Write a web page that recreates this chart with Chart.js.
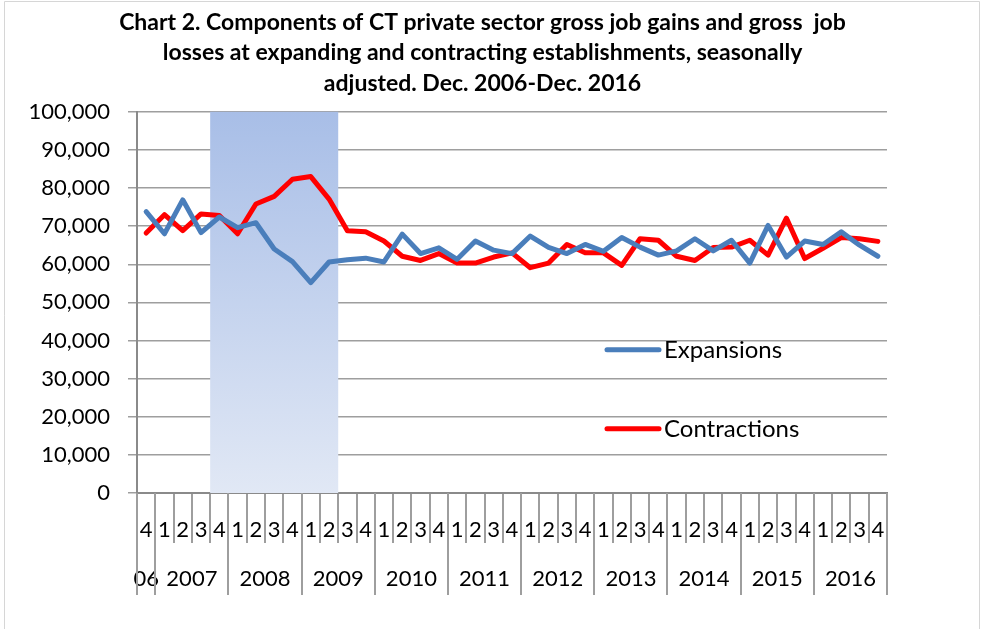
<!DOCTYPE html>
<html>
<head>
<meta charset="utf-8">
<script src="https://cdn.jsdelivr.net/npm/chart.js@4.4.1/dist/chart.umd.min.js"></script>
<style>
  html, body { margin: 0; padding: 0; background: #fff; }
  #chart { display: block; }
</style>
</head>
<body>
<canvas id="chart" width="981" height="629"></canvas>
<script>
// quarters, Dec. 2006 - Dec. 2016
const periods = [
  "2006 Q4",
  "2007 Q1", "2007 Q2", "2007 Q3", "2007 Q4",
  "2008 Q1", "2008 Q2", "2008 Q3", "2008 Q4",
  "2009 Q1", "2009 Q2", "2009 Q3", "2009 Q4",
  "2010 Q1", "2010 Q2", "2010 Q3", "2010 Q4",
  "2011 Q1", "2011 Q2", "2011 Q3", "2011 Q4",
  "2012 Q1", "2012 Q2", "2012 Q3", "2012 Q4",
  "2013 Q1", "2013 Q2", "2013 Q3", "2013 Q4",
  "2014 Q1", "2014 Q2", "2014 Q3", "2014 Q4",
  "2015 Q1", "2015 Q2", "2015 Q3", "2015 Q4",
  "2016 Q1", "2016 Q2", "2016 Q3", "2016 Q4"
];
const quarterLabels = [
  "4",
  "1", "2", "3", "4", "1", "2", "3", "4", "1", "2", "3", "4",
  "1", "2", "3", "4", "1", "2", "3", "4", "1", "2", "3", "4",
  "1", "2", "3", "4", "1", "2", "3", "4", "1", "2", "3", "4",
  "1", "2", "3", "4"
];
const yearLabels = ["06", "2007", "2008", "2009", "2010", "2011", "2012", "2013", "2014", "2015", "2016"];
const yearSpans = [1, 4, 4, 4, 4, 4, 4, 4, 4, 4, 4];

const expansions = [
  73800, 68000, 76900, 68300, 72400, 69600, 70900, 64000, 60700, 55200,
  60600, 61200, 61600, 60600, 67900, 62800, 64300, 61300, 66100, 63700,
  62800, 67400, 64400, 62800, 65200, 63400, 67000, 64500, 62400, 63500,
  66700, 63500, 66300, 60300, 70200, 61900, 66100, 65200, 68500, 65000,
  62100
];
const contractions = [
  68200, 73000, 68800, 73200, 72800, 68000, 75800, 77800, 82300, 83000,
  77100, 68800, 68500, 66100, 62100, 61000, 62800, 60300, 60300, 61900,
  63000, 59100, 60300, 65200, 63000, 63000, 59700, 66700, 66300, 62100,
  61000, 64400, 64500, 66300, 62400, 72100, 61500, 64200, 67000, 66700,
  66000
];

// recession shading (Dec. 2007 - Jun. 2009)
const recessionFrom = "2007 Q4";
const recessionTo = "2009 Q2";

const FONT = "Lato";
const GRID = "#9e9e9e";
const AXIS = "#8a8a8a";

const frame = {
  id: "frame",
  beforeDraw(chart) {
    const c = chart.ctx;
    c.save();
    c.fillStyle = "#fff";
    c.fillRect(0, 0, chart.width, chart.height);
    c.strokeStyle = "#d6d6d6";
    c.lineWidth = 1;
    c.beginPath();
    c.moveTo(4.5, chart.height);
    c.lineTo(4.5, 1.5);
    c.lineTo(979.5, 1.5);
    c.lineTo(979.5, chart.height);
    c.stroke();
    c.restore();
  }
};

const recession = {
  id: "recession",
  beforeDatasetsDraw(chart) {
    const x = chart.scales.x, area = chart.chartArea, c = chart.ctx;
    const half = (x.getPixelForValue(1) - x.getPixelForValue(0)) / 2;
    const x0 = x.getPixelForValue(periods.indexOf(recessionFrom)) - half;
    const x1 = x.getPixelForValue(periods.indexOf(recessionTo)) + half;
    const g = c.createLinearGradient(0, area.top, 0, area.bottom);
    g.addColorStop(0, "#a8bee7");
    g.addColorStop(1, "#e1e8f5");
    c.save();
    c.fillStyle = g;
    c.fillRect(x0, area.top, x1 - x0, area.bottom - area.top);
    c.restore();
  }
};

const yearRow = {
  id: "yearRow",
  afterDraw(chart) {
    const x = chart.scales.x, area = chart.chartArea, c = chart.ctx;
    const half = (x.getPixelForValue(1) - x.getPixelForValue(0)) / 2;
    c.save();
    c.strokeStyle = GRID;
    c.lineWidth = 2;
    c.fillStyle = "#000";
    c.font = "22px " + FONT;
    c.textAlign = "center";
    c.textBaseline = "middle";
    let start = 0;
    const edges = [x.getPixelForValue(0) - half];
    yearLabels.forEach((lab, k) => {
      const end = start + yearSpans[k] - 1;
      const cx = (x.getPixelForValue(start) + x.getPixelForValue(end)) / 2;
      c.fillText(lab, cx, 579);
      edges.push(x.getPixelForValue(end) + half);
      start = end + 1;
    });
    edges.forEach(px => {
      c.beginPath();
      c.moveTo(Math.round(px), area.bottom);
      c.lineTo(Math.round(px), 595);
      c.stroke();
    });
    c.restore();
  }
};

const insideLegend = {
  id: "insideLegend",
  afterDatasetsDraw(chart) {
    const area = chart.chartArea, c = chart.ctx;
    const rows = [238, 317];
    c.save();
    c.font = "24px " + FONT;
    c.textBaseline = "middle";
    c.fillStyle = "#000";
    chart.data.datasets.forEach((ds, i) => {
      const y = area.top + rows[i];
      const x0 = area.left + 470;
      c.strokeStyle = ds.borderColor;
      c.lineWidth = 5;
      c.lineCap = "round";
      c.beginPath();
      c.moveTo(x0, y);
      c.lineTo(x0 + 52, y);
      c.stroke();
      c.fillText(ds.label, x0 + 57, y);
    });
    c.restore();
  }
};

new Chart(document.getElementById("chart"), {
  type: "line",
  data: {
    labels: periods,
    datasets: [
      {
        label: "Expansions",
        data: expansions,
        borderColor: "#4a7ebb",
        borderWidth: 5,
        pointRadius: 0,
        tension: 0,
        borderJoinStyle: "round",
        borderCapStyle: "round"
      },
      {
        label: "Contractions",
        data: contractions,
        borderColor: "#ff0000",
        borderWidth: 5,
        pointRadius: 0,
        tension: 0,
        borderJoinStyle: "round",
        borderCapStyle: "round"
      }
    ]
  },
  options: {
    responsive: false,
    animation: false,
    layout: { padding: { left: 0, right: 16, top: 0, bottom: 0 } },
    plugins: {
      legend: { display: false },
      tooltip: { enabled: false },
      title: {
        display: true,
        text: [
          "Chart 2. Components of CT private sector gross job gains and gross  job",
          "losses at expanding and contracting establishments, seasonally",
          "adjusted. Dec. 2006-Dec. 2016"
        ],
        color: "#000",
        font: { family: FONT, size: 23, weight: "bold", lineHeight: 1.33 },
        padding: { top: 7, bottom: 13 }
      }
    },
    scales: {
      x: {
        offset: true,
        grid: {
          offset: true,
          drawOnChartArea: false,
          tickLength: 50,
          color: GRID,
          lineWidth: 2
        },
        border: { color: AXIS, width: 2 },
        ticks: {
          autoSkip: false,
          maxRotation: 0,
          padding: -26,
          color: "#000",
          font: { family: FONT, size: 22 },
          callback: (v, i) => quarterLabels[i]
        },
        afterFit: s => { s.height = 136; }
      },
      y: {
        min: 0,
        max: 100000,
        ticks: {
          stepSize: 10000,
          padding: 18,
          color: "#000",
          font: { family: FONT, size: 22 }
        },
        grid: { color: GRID, lineWidth: 1.5, tickLength: 9 },
        border: { color: AXIS, width: 2 },
        afterFit: s => { s.width = 137; }
      },
      // empty right-hand spacer so the plot ends where the reference's does
      spacer: {
        type: "linear",
        position: "right",
        display: true,
        grid: { display: false, drawTicks: false },
        border: { display: false },
        ticks: { display: false },
        afterFit: s => { s.width = 78; }
      }
    }
  },
  plugins: [frame, recession, yearRow, insideLegend]
});
</script>
</body>
</html>
